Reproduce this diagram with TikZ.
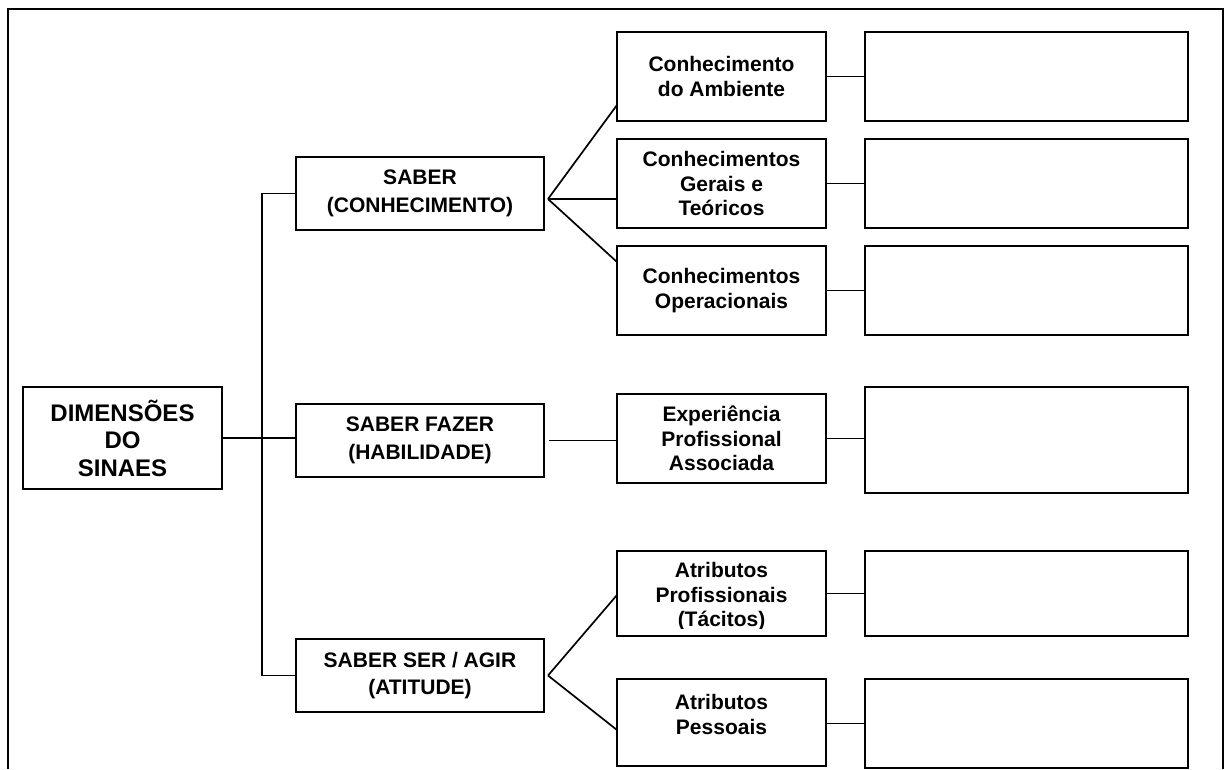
\documentclass[tikz,border=0pt]{standalone}
\usepackage{fontspec}
\setmainfont{Liberation Sans}
\begin{document}
\begin{tikzpicture}[x=1pt,y=-1pt,
  every node/.style={inner sep=0pt, outer sep=0pt},
  box/.style={draw, line width=2pt, align=center},
  lbox/.style={box, minimum width=248pt, minimum height=73pt, font=\bfseries\fontsize{21}{27.5}\selectfont},
  mbox/.style={box, minimum width=209pt, font=\bfseries\fontsize{21}{24.5}\selectfont},
  rbox/.style={draw, line width=2pt, minimum width=323pt},
  link/.style={line width=1.7pt}]
\useasboundingbox (0,0) rectangle (1227,769);
% outer frame (open at bottom)
\draw[line width=1.7pt] (8,769) -- (8,9) -- (1223,9) -- (1223,769);

% left column
\node[box, minimum width=199pt, minimum height=102pt, font=\bfseries\fontsize{24}{27.5}\selectfont] (dim) at (122.5,438) {DIMENSÕES\\DO\\SINAES};
\node[lbox] (saber) at (420,193.5) {SABER\\(CONHECIMENTO)};
\node[lbox] (fazer) at (420,440.5) {SABER FAZER\\(HABILIDADE)};
\node[lbox] (ser) at (420,675.5) {SABER SER / AGIR\\(ATITUDE)};

% middle column
\node[mbox, minimum height=89pt] (m1) at (721.5,76.5) {Conhecimento\\do Ambiente};
\node[mbox, minimum height=89pt] (m2) at (721.5,183.5) {Conhecimentos\\Gerais e\\Teóricos};
\node[mbox, minimum height=89pt] (m3) at (721.5,290.5) {Conhecimentos\\Operacionais};
\node[mbox, minimum height=89pt] (m4) at (721.5,438.5) {Experiência\\Profissional\\Associada};
\node[mbox, minimum height=85pt] (m5) at (721.5,593.5) {};
\begin{scope}
  \clip (617,551) rectangle (826,628);
  \node[align=center, font=\bfseries\fontsize{21}{24.5}\selectfont] (m5t) at (721.5,597) {Atributos\\Profissionais\\(Tácitos)};
\end{scope}
\node[mbox, minimum height=87pt, text depth=16pt] (m6) at (721.5,722.5) {Atributos\\Pessoais};

% right column (empty boxes)
\node[rbox, minimum height=89pt] (r1) at (1026.5,76.5) {};
\node[rbox, minimum height=89pt] (r2) at (1026.5,183.5) {};
\node[rbox, minimum height=89pt] (r3) at (1026.5,290.5) {};
\node[rbox, minimum height=106pt] (r4) at (1026.5,440) {};
\node[rbox, minimum height=85pt] (r5) at (1026.5,593.5) {};
\node[rbox, minimum height=89pt] (r6) at (1026.5,723.5) {};

% bus
\coordinate (bus) at (262,0);
\draw[link] (saber.west) -- (saber.west -| bus) -- (ser.west -| bus) -- (ser.west);
\draw[link] (dim.east) -- (dim.east -| fazer.west);

% fans
\coordinate (sa) at ([xshift=4pt,yshift=-5.5pt]saber.east);
\draw[link] (sa) -- ([yshift=-28.5pt]m1.west);
\draw[link] (sa) -- (sa -| m2.west);
\draw[link] (sa) -- ([yshift=28.5pt]m3.west);

\coordinate (se) at ([xshift=4pt]ser.east);
\draw[link] (se) -- ([yshift=-1.5pt]m5.west);
\draw[link] (se) -- ([yshift=-7.5pt]m6.west);

\draw[link] ([xshift=5pt]fazer.east) -- (fazer.east -| m4.west);

% middle to right
\draw[link] (m1.east) -- (m1.east -| r1.west);
\draw[link] (m2.east) -- (m2.east -| r2.west);
\draw[link] (m3.east) -- (m3.east -| r3.west);
\draw[link] (m4.east) -- (m4.east -| r4.west);
\draw[link] (m5.east) -- (m5.east -| r5.west);
\draw[link] ([yshift=-1pt]m6.east) -- ([yshift=-1pt]m6.east -| r6.west);
\end{tikzpicture}
\end{document}
